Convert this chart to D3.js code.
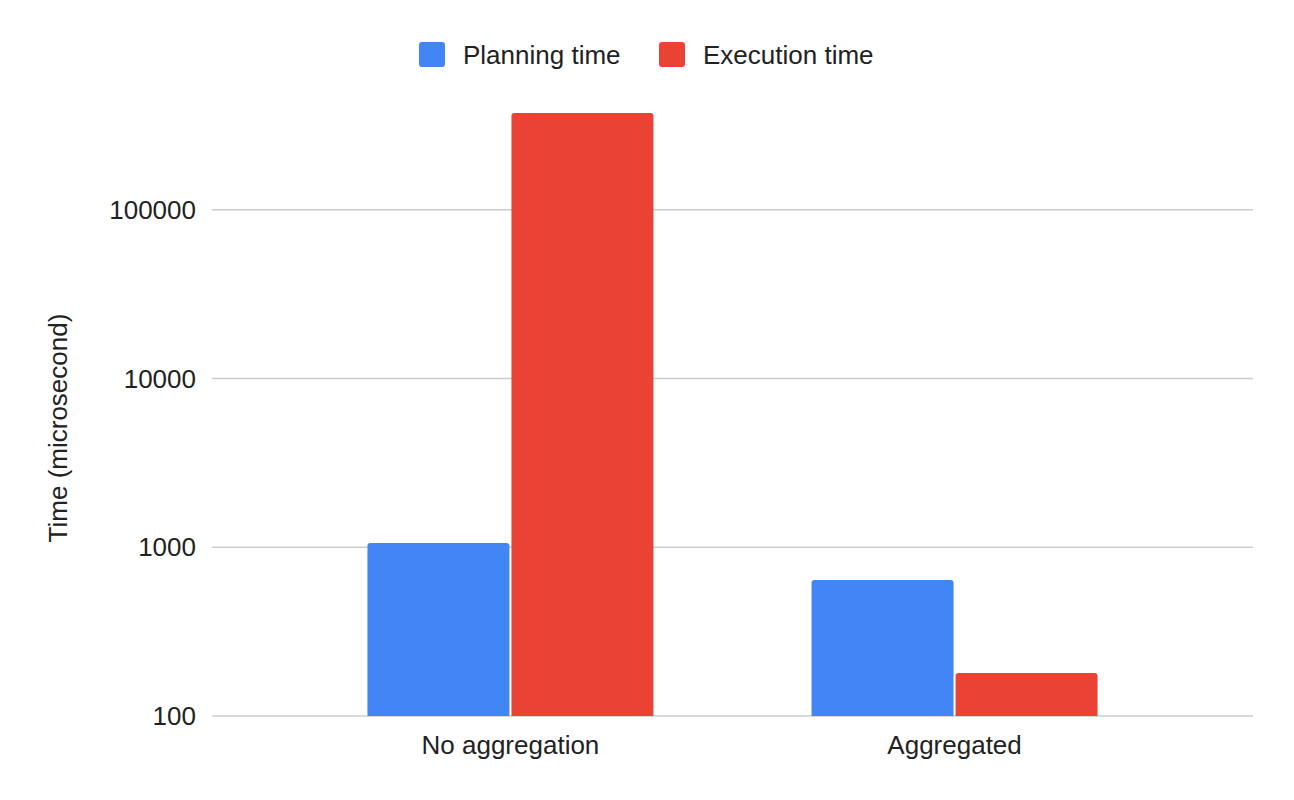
<!DOCTYPE html>
<html>
<head>
<meta charset="utf-8">
<script src="https://cdn.jsdelivr.net/npm/d3@7"></script>
<style>
  body { margin: 0; background: #fff; }
  text { font-family: "Liberation Sans", Arial, sans-serif; }
</style>
</head>
<body>
<div id="chart"></div>
<script>
const categories = ['No aggregation', 'Aggregated'];
const seriesNames = ['Planning time', 'Execution time'];
const seriesColors = ['#4285F4', '#EA4335'];
const planningTime = [1060, 640];
const executionTime = [375000, 180];
const yTicks = [100, 1000, 10000, 100000];

const width = 1294, height = 800;
const margin = { top: 41, right: 41, bottom: 84, left: 212 };

const svg = d3.select('#chart')
    .append('svg')
    .attr('width', width)
    .attr('height', height);

const x = d3.scaleBand()
    .domain(categories)
    .range([margin.left, width - margin.right])
    .paddingInner(0.356)
    .paddingOuter(0.35);

const x1 = d3.scaleBand()
    .domain(seriesNames)
    .range([0, x.bandwidth()])
    .paddingInner(0.014);

const y = d3.scaleLog()
    .domain([100, 1000000])
    .range([height - margin.bottom, margin.top]);

// gridlines
svg.append('g')
    .selectAll('line')
    .data(yTicks)
    .enter().append('line')
    .attr('x1', margin.left)
    .attr('x2', width - margin.right)
    .attr('y1', d => y(d))
    .attr('y2', d => y(d))
    .attr('stroke', '#cccccc')
    .attr('stroke-width', 1.5);

// y tick labels
svg.append('g')
    .selectAll('text')
    .data(yTicks)
    .enter().append('text')
    .attr('x', margin.left - 16)
    .attr('y', d => y(d))
    .attr('dy', '0.35em')
    .attr('text-anchor', 'end')
    .attr('font-size', 26)
    .attr('fill', '#222')
    .text(d => d);

// bars
const rows = categories.map((c, i) => ({
    cat: c,
    values: [planningTime[i], executionTime[i]]
}));

function topRounded(x0, y0, w, h, r) {
    return `M${x0},${y0 + h}V${y0 + r}Q${x0},${y0} ${x0 + r},${y0}` +
        `H${x0 + w - r}Q${x0 + w},${y0} ${x0 + w},${y0 + r}V${y0 + h}Z`;
}

svg.append('g')
    .selectAll('g')
    .data(rows)
    .enter().append('g')
    .attr('transform', d => `translate(${x(d.cat)},0)`)
    .selectAll('path')
    .data(d => d.values.map((v, j) => ({ v, j })))
    .enter().append('path')
    .attr('d', d => {
        const y0 = y(d.v);
        return topRounded(x1(seriesNames[d.j]), y0, x1.bandwidth(), y(100) - y0, 3);
    })
    .attr('fill', d => seriesColors[d.j]);

// x labels
svg.append('g')
    .selectAll('text')
    .data(categories)
    .enter().append('text')
    .attr('x', d => x(d) + x.bandwidth() / 2)
    .attr('y', height - margin.bottom + 38)
    .attr('text-anchor', 'middle')
    .attr('font-size', 26)
    .attr('fill', '#222')
    .text(d => d);

// y axis title
svg.append('text')
    .attr('transform', 'translate(67,428) rotate(-90)')
    .attr('text-anchor', 'middle')
    .attr('font-size', 26)
    .attr('fill', '#222')
    .text('Time (microsecond)');

// legend
const legend = svg.append('g');
const legendX = [419, 659];
seriesNames.forEach((name, i) => {
    legend.append('rect')
        .attr('x', legendX[i])
        .attr('y', 42)
        .attr('width', 26)
        .attr('height', 25)
        .attr('rx', 3)
        .attr('fill', seriesColors[i]);
    legend.append('text')
        .attr('x', legendX[i] + 44)
        .attr('y', 55)
        .attr('dy', '0.35em')
        .attr('font-size', 26)
        .attr('fill', '#222')
        .text(name);
});
</script>
</body>
</html>
